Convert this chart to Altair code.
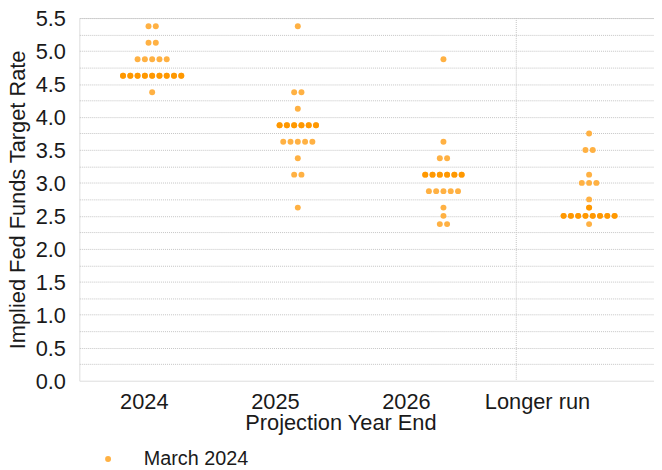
import altair as alt
import pandas as pd

categories = ["2024", "2025", "2026", "Longer run"]

rates_2024 = [5.375, 5.125, 4.875, 4.625, 4.375]
counts_2024 = [2, 2, 5, 9, 1]
rates_2025 = [5.375, 4.375, 4.125, 3.875, 3.625, 3.375, 3.125, 2.625]
counts_2025 = [1, 2, 1, 6, 5, 1, 2, 1]
rates_2026 = [4.875, 3.625, 3.375, 3.125, 2.875, 2.625, 2.5, 2.375]
counts_2026 = [1, 1, 2, 6, 5, 1, 1, 2]
rates_longer = [3.75, 3.5, 3.125, 3.0, 2.75, 2.625, 2.5, 2.375]
counts_longer = [1, 2, 1, 3, 1, 1, 8, 1]

median_rates = {"2024": [4.625], "2025": [3.875], "2026": [3.125], "Longer run": [2.5, 2.625]}
series_name = "March 2024"

y_grid_values = [0.0, 0.25, 0.5, 0.75, 1.0, 1.25, 1.5, 1.75, 2.0, 2.25, 2.5, 2.75,
                 3.0, 3.25, 3.5, 3.75, 4.0, 4.25, 4.5, 4.75, 5.0, 5.25, 5.5]

LIGHT = "#FFB143"
DARK = "#FF9800"
FONT = "Liberation Sans"
TXT = "#1a1a1a"

rows = []
for idx, (cat, rates, counts) in enumerate(zip(
        categories,
        [rates_2024, rates_2025, rates_2026, rates_longer],
        [counts_2024, counts_2025, counts_2026, counts_longer])):
    for r, c in zip(rates, counts):
        for k in range(c):
            rows.append({
                "cat": cat, "idx": idx, "rate": r,
                "slot": k - (c - 1) / 2,
                "dark": r in median_rates[cat],
                "series": series_name,
            })
df = pd.DataFrame(rows)

xscale = alt.Scale(domain=[-0.5, 3.5], range=[0, 588])
yscale = alt.Scale(domain=[0, 5.5], nice=False, zero=False)

base = alt.Chart(df).transform_calculate(xpos="datum.idx + datum.slot * 0.05")


def make_yaxis():
    return alt.Axis(
        values=y_grid_values,
        labelExpr="(round(datum.value * 4) % 2 == 0) ? format(datum.value, '.1f') : ''",
        labelOverlap=False,
        domain=False, ticks=False, grid=True,
        gridColor="#c4c4c4", gridDash=[1, 1], gridWidth=1,
        gridOpacity={"condition": {"test": "datum.value === 0", "value": 0}, "value": 1},
        labelFontSize=22, labelColor=TXT, labelPadding=14, labelFont=FONT, labelOffset=1,
        title="Implied Fed Funds Target Rate", titleFontSize=22, titleFontWeight="normal",
        titleColor=TXT, titlePadding=6, titleFont=FONT,
    )


dots = base.mark_circle(size=36, opacity=1).encode(
    x=alt.X("xpos:Q", scale=xscale, axis=None),
    y=alt.Y("rate:Q", scale=yscale, axis=make_yaxis()),
    color=alt.Color("series:N", scale=alt.Scale(range=[LIGHT]),
                    legend=alt.Legend(
                        title=None, orient="none", legendX=19, legendY=435,
                        symbolType="circle", symbolSize=36, symbolStrokeWidth=0,
                        labelFontSize=20, labelColor=TXT, labelFont=FONT,
                        labelOffset=26, padding=0)),
)

dark_dots = base.transform_filter("datum.dark").mark_circle(size=36, opacity=1, color=DARK).encode(
    x=alt.X("xpos:Q", scale=xscale, axis=None),
    y=alt.Y("rate:Q", scale=yscale, axis=make_yaxis()),
)

sep = alt.Chart(pd.DataFrame({"boundary": [2.5]})).mark_rule(
    color="#c4c4c4", strokeDash=[1, 1], strokeWidth=1
).encode(x=alt.X("boundary:Q", scale=xscale, axis=None))

inner = alt.layer(sep, dots, dark_dots)

labels = alt.Chart(pd.DataFrame({"cat": categories})).mark_point(opacity=0).encode(
    x=alt.X("cat:N", sort=categories,
            scale=alt.Scale(range=[-1, 528], paddingInner=0, paddingOuter=0),
            axis=alt.Axis(orient="bottom", domain=False, ticks=False, grid=False,
                          labelAngle=0, labelFontSize=22, labelColor=TXT,
                          labelFont=FONT, labelPadding=11,
                          title="Projection Year End", titleFontSize=22,
                          titleFontWeight="normal", titleColor=TXT,
                          titleFont=FONT, titlePadding=0)),
)

chart = alt.layer(inner, labels).resolve_scale(x="independent").properties(
    width=580, height=366,
    autosize=alt.AutoSizeParams(type="none"),
    padding={"left": 72, "top": 8, "right": 0, "bottom": 90},
).configure_view(stroke=None).configure(font=FONT)

chart.save("out.html", embed_options={"renderer": "svg", "actions": False})
